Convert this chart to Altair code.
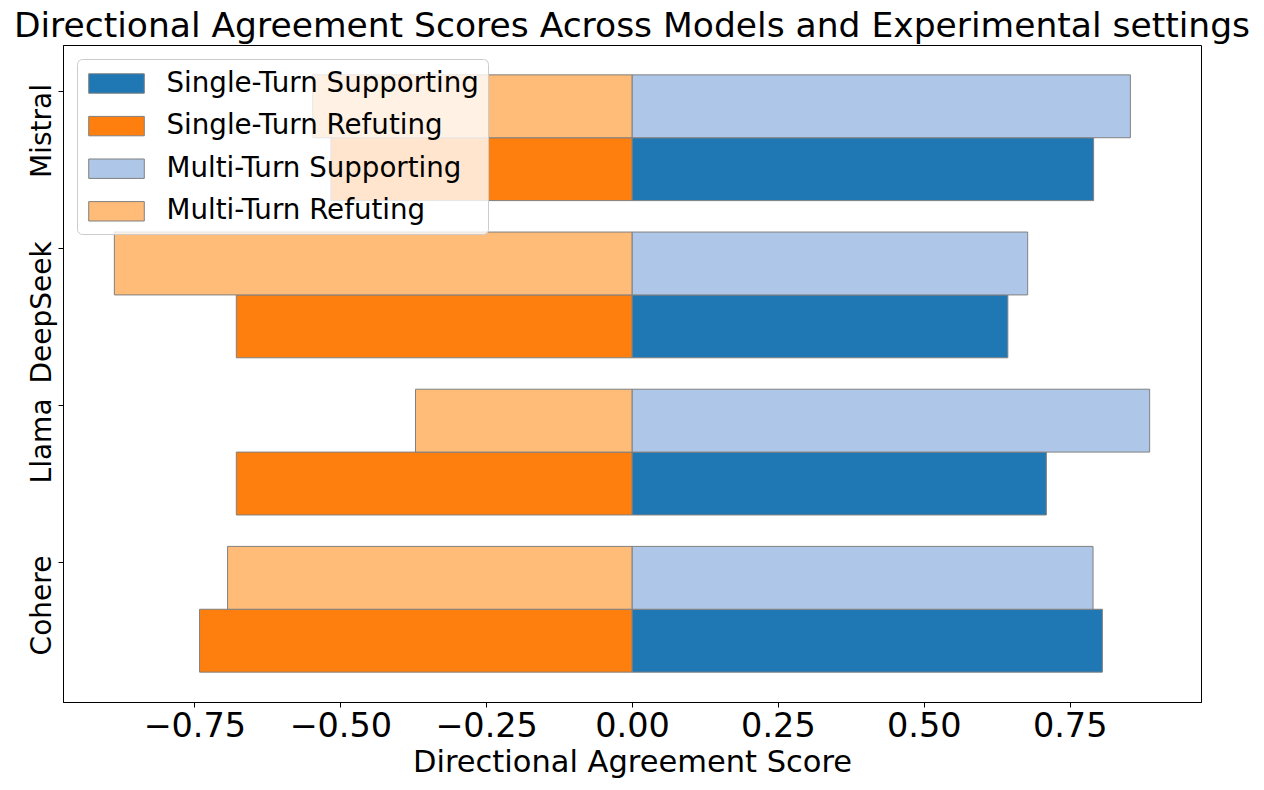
import altair as alt
import pandas as pd

# ---- data ----
models = ["Cohere", "Llama", "DeepSeek", "Mistral"]
single_supporting = [0.806, 0.710, 0.644, 0.791]
single_refuting = [-0.741, -0.678, -0.678, -0.516]
multi_supporting = [0.790, 0.887, 0.678, 0.854]
multi_refuting = [-0.693, -0.371, -0.887, -0.547]

series_names = [
    "Single-Turn Supporting",
    "Single-Turn Refuting",
    "Multi-Turn Supporting",
    "Multi-Turn Refuting",
]
series_turn = [0, 0, 1, 1]  # 0 = single-turn row, 1 = multi-turn row
series_colors = ["#1f77b4", "#ff7f0e", "#aec7e8", "#ffbb78"]
series_values = [single_supporting, single_refuting, multi_supporting, multi_refuting]
x_ticks = [-0.75, -0.5, -0.25, 0.0, 0.25, 0.5, 0.75]

rows = []
for name, turn, vals in zip(series_names, series_turn, series_values):
    for i, (m, v) in enumerate(zip(models, vals)):
        rows.append({"model": m, "idx": i, "series": name, "turn": turn, "value": v})
df = pd.DataFrame(rows)

FONT = "DejaVu Sans"
BAR_H = 0.4
label_expr = "[" + ",".join("'%s'" % m for m in models) + "][floor(datum.value)]"

bars = (
    alt.Chart(df)
    .transform_calculate(
        y0=f"datum.idx + datum.turn*{BAR_H} - {BAR_H/2}",
        y1=f"datum.idx + datum.turn*{BAR_H} + {BAR_H/2}",
    )
    .mark_bar(stroke="#808080", strokeWidth=1)
    .encode(
        x=alt.X(
            "value:Q",
            scale=alt.Scale(domain=[-0.975, 0.975], nice=False, zero=False),
            axis=alt.Axis(
                values=x_ticks,
                format=".2f",
                title="Directional Agreement Score",
                grid=False,
                labelFontSize=33.5,
                titleFontSize=30.5,
                tickSize=5,
                labelPadding=3,
                titlePadding=5,
                labelFlush=False,
            ),
        ),
        x2=alt.datum(0),
        y=alt.Y(
            "y0:Q",
            scale=alt.Scale(domain=[-0.39, 3.79], nice=False, zero=False),
            axis=alt.Axis(
                values=[0.5, 1.5, 2.5, 3.5],
                labelExpr=label_expr,
                title=None,
                grid=False,
                labelAngle=270,
                labelAlign="right",
                labelBaseline="alphabetic",
                labelOffset=-7,
                labelFontSize=28,
                tickSize=5,
                labelPadding=8,
                labelFlush=False,
                labelOverlap=False,
            ),
        ),
        y2="y1:Q",
        color=alt.Color(
            "series:N",
            sort=series_names,
            scale=alt.Scale(domain=series_names, range=series_colors),
            legend=alt.Legend(
                title=None,
                orient="none",
                legendX=14,
                legendY=14,
                symbolType="M-1.853,-0.647H1.853V0.647H-1.853Z",
                symbolSize=900,
                symbolStrokeColor="#808080",
                symbolStrokeWidth=1,
                symbolOpacity=1,
                symbolOffset=15,
                labelOffset=34.5,
                labelFontSize=27.7,
                labelFont=FONT,
                labelColor="black",
                labelLimit=800,
                padding=9,
                rowPadding=12.6,
                fillColor="rgba(255,255,255,0.8)",
                strokeColor="#cccccc",
                cornerRadius=5,
            ),
        ),
    )
)

chart = (
    bars.properties(
        width=1138,
        height=657,
        autosize=alt.AutoSizeParams(type="none"),
        padding={"left": 55, "top": 37, "right": 55, "bottom": 76},
        title=alt.TitleParams(
            "Directional Agreement Scores Across Models and Experimental settings",
            fontSize=34.5,
            font=FONT,
            fontWeight="normal",
            color="black",
            anchor="middle",
            frame="group",
            offset=1,
        ),
    )
    .configure(font=FONT)
    .configure_view(stroke="black", strokeWidth=1)
    .configure_axis(
        domainColor="black",
        tickColor="black",
        labelColor="black",
        titleColor="black",
        labelFont=FONT,
        titleFont=FONT,
        titleFontWeight="normal",
    )
)

chart.save("out.html", embed_options={"renderer": "svg", "actions": False})
